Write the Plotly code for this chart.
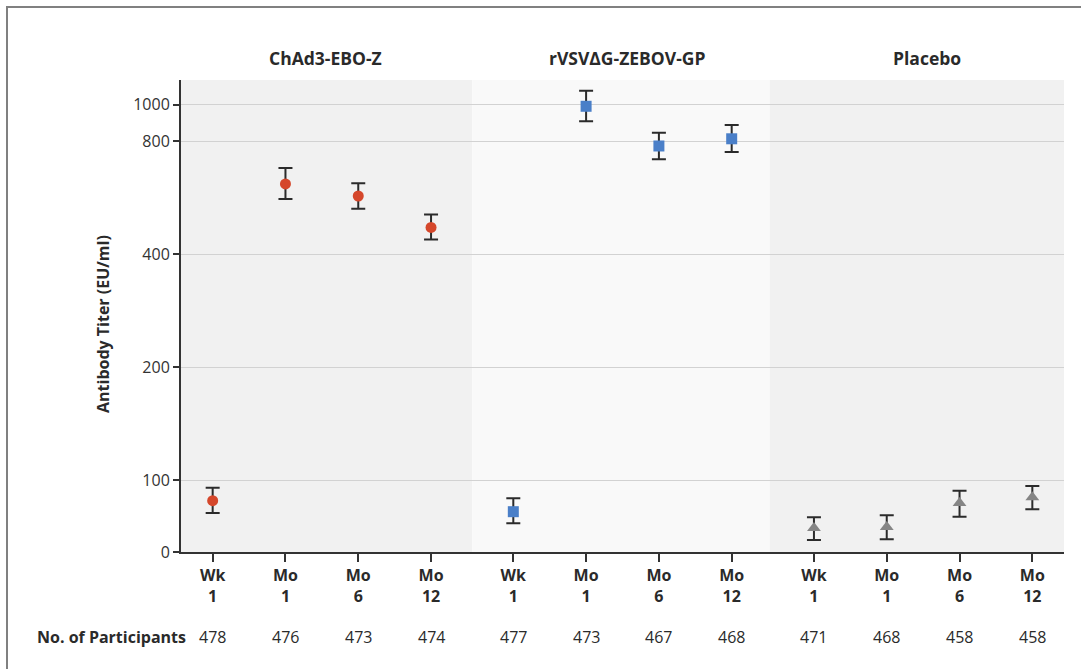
import math
import plotly.graph_objects as go

# ---------------- data ----------------
groups = ["ChAd3-EBO-Z", "rVSVΔG-ZEBOV-GP", "Placebo"]
timepoints = ["Wk<br>1", "Mo<br>1", "Mo<br>6", "Mo<br>12"]

chad_mean = [71.3, 615, 571, 471]
chad_lo = [54.2, 561, 528, 437]
chad_hi = [89.3, 678, 617, 510]

rvsv_mean = [56.0, 990, 776, 811]
rvsv_lo = [39.9, 903, 715, 748]
rvsv_hi = [74.6, 1089, 842, 882]

plac_mean = [33.3, 34.7, 68.1, 76.0]
plac_lo = [16.7, 17.6, 49.0, 59.3]
plac_hi = [48.2, 51.0, 85.1, 91.7]

chad_n = [478, 476, 473, 474]
rvsv_n = [477, 473, 467, 468]
plac_n = [471, 468, 458, 458]

y_ticks = [0, 100, 200, 400, 800, 1000]

# ---------------- scale helpers ----------------
ZERO_SPAN = 0.637   # width (in doublings) of the linear 0-100 segment
GROUP_STEP = 4.13   # distance between groups in category units


def ty(v):
    if v >= 100:
        return math.log2(v / 100.0)
    return -(100.0 - v) / 100.0 * ZERO_SPAN


def xpos(g):
    return [g * GROUP_STEP + i for i in range(len(timepoints))]


series = [
    (chad_mean, chad_lo, chad_hi, chad_n, "circle", "#d5472b", 11),
    (rvsv_mean, rvsv_lo, rvsv_hi, rvsv_n, "square", "#4a7fc8", 11),
    (plac_mean, plac_lo, plac_hi, plac_n, "triangle-up", "#858585", 12),
]

FONT = "Open Sans"
TXT = "#2a2a2a"

fig = go.Figure()

for g, (m, lo, hi, n, sym, col, sz) in enumerate(series):
    ym = [ty(v) for v in m]
    fig.add_trace(go.Scatter(
        x=xpos(g), y=ym, mode="markers",
        marker=dict(symbol=sym, color=col, size=sz, line=dict(width=0)),
        error_y=dict(type="data", symmetric=False,
                     array=[ty(h) - y for h, y in zip(hi, ym)],
                     arrayminus=[y - ty(l) for l, y in zip(lo, ym)],
                     color="#2b2b2b", thickness=2, width=7),
        showlegend=False, hoverinfo="skip",
    ))

all_x = [x for g in range(3) for x in xpos(g)]
all_text = timepoints * 3

x_lo = -0.435
x_hi = 2 * GROUP_STEP + 3 + 0.435
b1 = (3 + GROUP_STEP) / 2
b2 = GROUP_STEP + b1 - 0.04

shapes = [
    dict(type="rect", xref="x", yref="paper", x0=x_lo, x1=b1, y0=0, y1=1,
         fillcolor="#f1f1f1", line=dict(width=0), layer="below"),
    dict(type="rect", xref="x", yref="paper", x0=b1, x1=b2, y0=0, y1=1,
         fillcolor="#f9f9f9", line=dict(width=0), layer="below"),
    dict(type="rect", xref="x", yref="paper", x0=b2, x1=x_hi, y0=0, y1=1,
         fillcolor="#f1f1f1", line=dict(width=0), layer="below"),
    # outer frame
    dict(type="rect", xref="paper", yref="paper",
         x0=(7 - 181) / 883, x1=(1095 - 181) / 883,
         y0=(552 - 690) / 472, y1=(552 - 7) / 472,
         line=dict(color="#808080", width=2), fillcolor="rgba(0,0,0,0)"),
]

annotations = []
for g, name in enumerate(groups):
    annotations.append(dict(
        x=g * GROUP_STEP + 1.5, y=(552 - 58) / 472, xref="x", yref="paper",
        text="<b>%s</b>" % name, showarrow=False, yanchor="middle",
        xshift=4,
        font=dict(family=FONT, size=17.5, color=TXT)))

for g, (_, _, _, n, _, _, _) in enumerate(series):
    for x, c in zip(xpos(g), n):
        annotations.append(dict(
            x=x, y=(552 - 637) / 472, xref="x", yref="paper",
            text=str(c), showarrow=False, yanchor="middle",
            font=dict(family=FONT, size=16, color=TXT)))

annotations.append(dict(
    x=(188 - 181) / 883, y=(552 - 637) / 472, xref="paper", yref="paper",
    text="<b>No. of Participants</b>", showarrow=False,
    xanchor="right", yanchor="middle",
    font=dict(family=FONT, size=16, color=TXT)))

annotations.append(dict(
    x=(103 - 181) / 883, y=(552 - 324) / 472, xref="paper", yref="paper",
    text="<b>Antibody Titer (EU/ml)</b>", showarrow=False, textangle=-90,
    xanchor="center", yanchor="middle",
    font=dict(family=FONT, size=16, color=TXT)))

fig.update_layout(
    width=1081, height=669,
    margin=dict(l=181, r=17, t=80, b=117),
    paper_bgcolor="white", plot_bgcolor="white",
    shapes=shapes, annotations=annotations,
    font=dict(family=FONT, color=TXT),
    xaxis=dict(
        range=[x_lo, x_hi], tickmode="array", tickvals=all_x, ticktext=all_text,
        showgrid=False, zeroline=False, showline=True, linecolor="#333333",
        linewidth=2, ticks="outside", ticklen=8, tickwidth=1.5,
        tickcolor="#333333",
        tickfont=dict(family=FONT, size=16, color=TXT, weight="bold"),
    ),
    yaxis=dict(
        range=[ty(0), 3.54], tickmode="array",
        tickvals=[ty(v) for v in y_ticks], ticktext=[str(v) for v in y_ticks],
        showgrid=True, gridcolor="#d2d2d2", gridwidth=1, zeroline=False,
        showline=True, linecolor="#333333", linewidth=2, ticks="outside",
        ticklen=6, tickwidth=1.5, tickcolor="#333333",
        tickfont=dict(family=FONT, size=16, color="#333333"),
    ),
)

fig.write_html("out.html",
               config={"displayModeBar": False},
               post_script="document.body.style.margin='0';"
                           "document.body.style.overflow='hidden';")
